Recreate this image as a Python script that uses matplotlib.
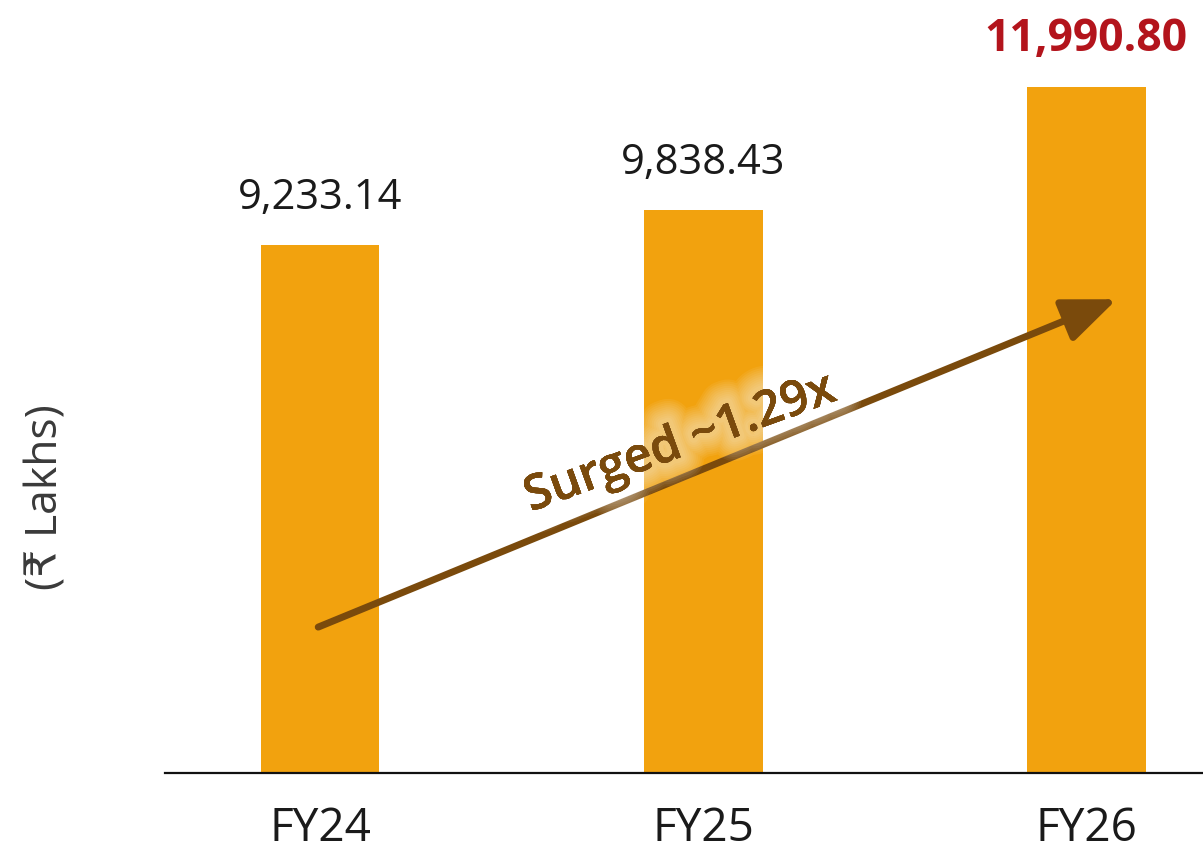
import matplotlib
matplotlib.use("Agg")
import matplotlib.pyplot as plt
import matplotlib.patheffects as pe

# ── data ────────────────────────────────────────────────────────────────────
years = ["FY24", "FY25", "FY26"]
values = [9233.14, 9838.43, 11990.80]
value_labels = ["9,233.14", "9,838.43", "11,990.80"]
growth_label = "Surged ~1.29x"

BAR_COLOR = "#F2A20E"
ARROW_COLOR = "#7A4A0C"
HIGHLIGHT = "#B3141C"

plt.rcParams["font.family"] = ["Open Sans", "DejaVu Sans"]

fig = plt.figure(figsize=(12.03, 8.57), dpi=100)
ax = fig.add_axes([165 / 1203, 1 - 773 / 857, 1 - 165 / 1203, 773 / 857])

x = list(range(len(years)))
bars = ax.bar(x, values, width=0.31, color=BAR_COLOR, zorder=2)

ax.set_xlim(-0.405, 2.305)
ax.set_ylim(0, 13510)

# value labels above each bar, last one highlighted
for i, (b, lab) in enumerate(zip(bars, value_labels)):
    last = i == len(bars) - 1
    ax.annotate(lab, (b.get_x() + b.get_width() / 2, b.get_height()),
                xytext=(0, 26), textcoords="offset points",
                ha="center", va="baseline",
                fontsize=32 if last else 30,
                fontweight="bold" if last else "normal",
                color=HIGHLIGHT if last else "#1a1a1a")

# axes styling
for side in ("top", "right", "left"):
    ax.spines[side].set_visible(False)
ax.spines["bottom"].set_linewidth(1.6)
ax.spines["bottom"].set_color("#111111")
ax.set_yticks([])
ax.set_xticks(x)
ax.set_xticklabels(years, fontsize=33, color="#1a1a1a")
ax.tick_params(axis="x", length=0, pad=24)

ax.set_ylabel("(₹ Lakhs)", fontsize=32, color="#3a3a3a")
ax.yaxis.set_label_coords(-0.093, 0.357)

# growth arrow from FY24 to FY26
ax.annotate("", xy=(2.08, 8280), xytext=(-0.005, 2550),
            arrowprops=dict(arrowstyle="-|>,head_length=1.1,head_width=0.45",
                            lw=5, color=ARROW_COLOR, mutation_scale=30,
                            shrinkA=0, shrinkB=0),
            zorder=3)

# soft light halo so the label stays readable where it crosses a bar
glow = [pe.withStroke(linewidth=w, foreground="#FFFFFF", alpha=0.06)
        for w in range(34, 4, -3)] + [pe.Normal()]
ax.text(0.94, 5750, growth_label, rotation=20,
        ha="center", va="center", fontsize=35, fontweight="semibold",
        color=ARROW_COLOR, path_effects=glow, zorder=4)

plt.savefig("out.png", dpi=100)
plt.close()
